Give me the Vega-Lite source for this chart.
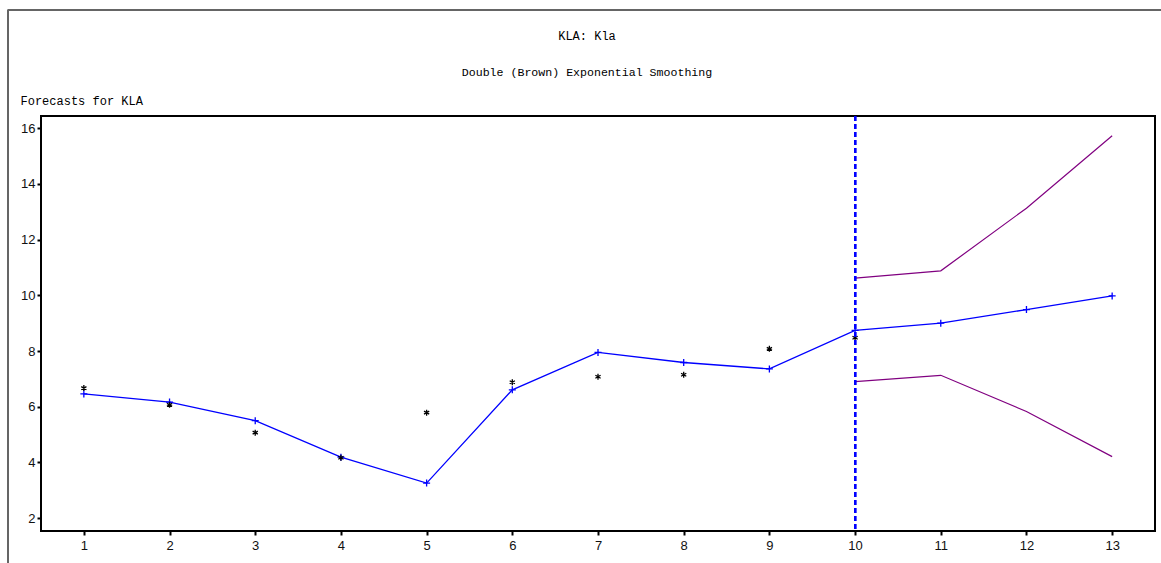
{
  "$schema": "https://vega.github.io/schema/vega-lite/v6.json",
  "autosize": {"type": "none"},
  "padding": {"left": 41, "top": 116, "right": 6, "bottom": 32},
  "width": 1114,
  "height": 415,
  "background": "white",
  "config": {
    "view": {"stroke": "black", "strokeWidth": 2},
    "axis": {"grid": false, "domain": false, "tickColor": "black", "tickWidth": 2, "tickSize": 4, "labelFont": "Liberation Sans", "labelFontSize": 13, "labelColor": "#111"}
  },
  "title": {
    "text": "KLA: Kla",
    "subtitle": "Double (Brown) Exponential Smoothing",
    "anchor": "middle",
    "frame": "group",
    "dx": -11,
    "dy": 70,
    "offset": 0,
    "font": "Liberation Mono",
    "fontSize": 12,
    "fontWeight": "normal",
    "subtitleFont": "Liberation Mono",
    "subtitleFontSize": 11.6,
    "subtitleColor": "black",
    "subtitlePadding": 24,
    "color": "black"
  },
  "data": {
    "values": [
      {"t": 1, "actual": 6.67, "forecast": 6.46, "upper": null, "lower": null},
      {"t": 2, "actual": 6.07, "forecast": 6.17, "upper": null, "lower": null},
      {"t": 3, "actual": 5.07, "forecast": 5.50, "upper": null, "lower": null},
      {"t": 4, "actual": 4.17, "forecast": 4.19, "upper": null, "lower": null},
      {"t": 5, "actual": 5.79, "forecast": 3.26, "upper": null, "lower": null},
      {"t": 6, "actual": 6.88, "forecast": 6.61, "upper": null, "lower": null},
      {"t": 7, "actual": 7.08, "forecast": 7.95, "upper": null, "lower": null},
      {"t": 8, "actual": 7.15, "forecast": 7.59, "upper": null, "lower": null},
      {"t": 9, "actual": 8.08, "forecast": 7.36, "upper": null, "lower": null},
      {"t": 10, "actual": 8.48, "forecast": 8.74, "upper": 10.62, "lower": 6.90},
      {"t": 11, "actual": null, "forecast": 9.00, "upper": 10.88, "lower": 7.13},
      {"t": 12, "actual": null, "forecast": 9.49, "upper": 13.13, "lower": 5.83},
      {"t": 13, "actual": null, "forecast": 9.98, "upper": 15.73, "lower": 4.21}
    ]
  },
  "encoding": {
    "x": {
      "field": "t", "type": "quantitative",
      "scale": {"domain": [0.5, 13.5], "nice": false, "zero": false},
      "axis": {"values": [1,2,3,4,5,6,7,8,9,10,11,12,13], "format": "d", "title": null, "labelPadding": 4}
    }
  },
  "layer": [
    {
      "mark": {"type": "rule", "color": "#666666", "strokeWidth": 1.5},
      "encoding": {
        "x": {"datum": 0.114, "type": "quantitative"},
        "y": {"datum": 20.25, "type": "quantitative"},
        "y2": {"datum": 0.3}
      }
    },
    {
      "mark": {"type": "rule", "color": "#666666", "strokeWidth": 1.5},
      "encoding": {
        "x": {"datum": 0.114, "type": "quantitative"},
        "x2": {"datum": 13.6},
        "y": {"datum": 20.25, "type": "quantitative"}
      }
    },
    {
      "mark": {"type": "line", "color": "#800080", "strokeWidth": 1.2},
      "encoding": {
        "y": {
          "field": "upper", "type": "quantitative",
          "scale": {"domain": [1.54, 16.44], "nice": false, "zero": false},
          "axis": {"values": [2,4,6,8,10,12,14,16], "title": "Forecasts for KLA", "titleAngle": 0, "titleAlign": "left", "titleBaseline": "middle", "titleX": -21, "titleY": -16, "titleFont": "Liberation Mono", "titleFontSize": 12, "titleFontWeight": "normal", "titleColor": "black", "labelPadding": 2}
        }
      }
    },
    {
      "mark": {"type": "line", "color": "#800080", "strokeWidth": 1.2},
      "encoding": {"y": {"field": "lower", "type": "quantitative"}}
    },
    {
      "mark": {"type": "line", "color": "#0000FF", "strokeWidth": 1.3},
      "encoding": {"y": {"field": "forecast", "type": "quantitative"}}
    },
    {
      "mark": {"type": "point", "shape": "M-1,0H1M0,-1V1", "size": 49, "color": "#0000FF", "filled": false, "strokeWidth": 1.3, "opacity": 1},
      "encoding": {"y": {"field": "forecast", "type": "quantitative"}}
    },
    {
      "mark": {"type": "point", "shape": "M0,-1V1M-0.87,-0.5L0.87,0.5M-0.87,0.5L0.87,-0.5", "size": 36, "color": "black", "filled": false, "strokeWidth": 1.3, "opacity": 1},
      "encoding": {"y": {"field": "actual", "type": "quantitative"}}
    },
    {
      "mark": {"type": "rule", "color": "#0000FF", "strokeWidth": 2, "strokeDash": [5, 3]},
      "encoding": {"x": {"datum": 10, "type": "quantitative"}}
    }
  ]
}
